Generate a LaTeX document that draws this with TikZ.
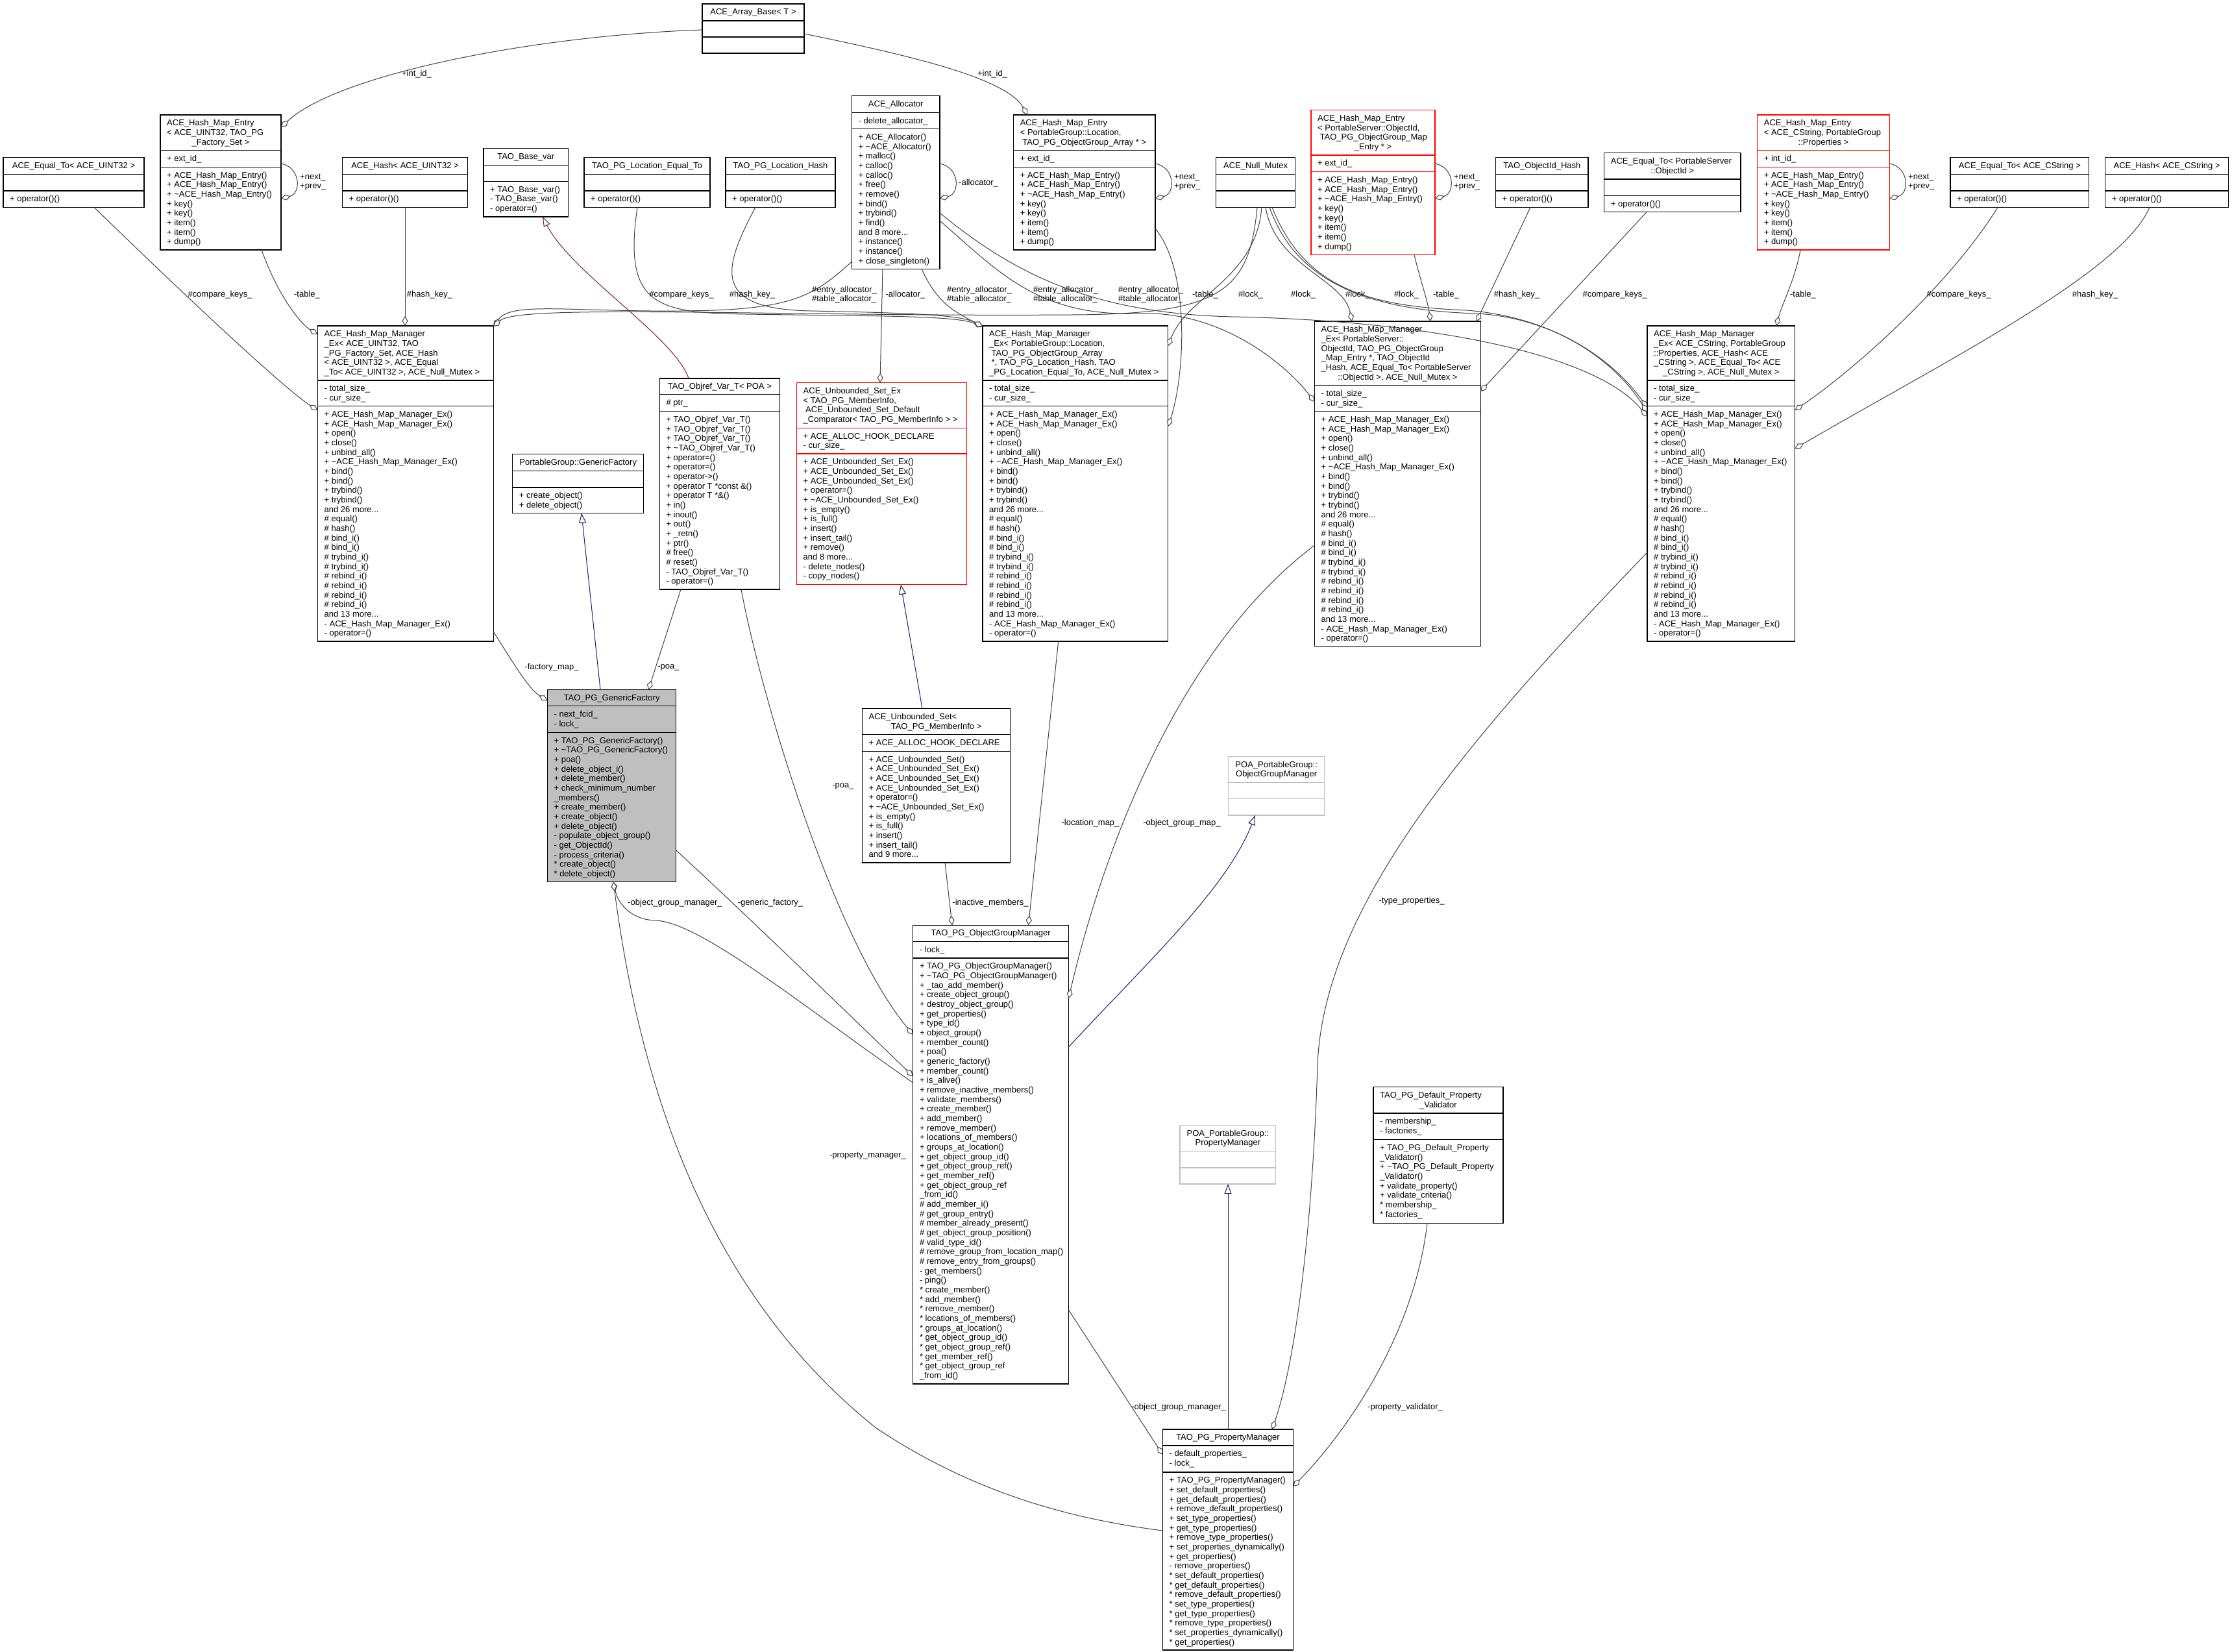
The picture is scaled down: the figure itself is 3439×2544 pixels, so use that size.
\documentclass[tikz,border=0pt]{standalone}
\usepackage{fontspec}
\setmainfont{Liberation Sans}
\usetikzlibrary{arrows.meta}
\definecolor{edgegray}{HTML}{404040}
\definecolor{inhblue}{HTML}{191970}
\definecolor{inhred}{HTML}{8B1A1A}
\definecolor{boxgray}{HTML}{BFBFBF}
\definecolor{classred}{HTML}{FF0000}
\tikzset{
  box/.style={draw, line width=1.3pt, inner sep=0pt, outer sep=0pt},
  ctext/.style={font=\fontsize{13}{14.67}\selectfont, inner sep=0pt, align=left, text=black},
  agg/.style={draw=edgegray, line width=1pt, -{Diamond[fill=white,length=15pt,width=9pt]}},
  inh/.style={draw=inhblue, line width=1pt, -{Triangle[fill=white,length=15pt,width=11pt]}},
  inhr/.style={draw=inhred, line width=1pt, -{Triangle[fill=white,length=15pt,width=11pt]}},
}
\newcounter{tn}
\newcommand\umlbox[9]{%
  \node[box,draw=#8,fill=#9,anchor=north west,minimum width={(#4-#2)*1pt},minimum height={(#7-#3)*1pt}] (#1) at (#2,#3) {};%
  \draw[draw=#8,line width=1.3pt] (#2,#5) -- (#4,#5);%
  \draw[draw=#8,line width=1.3pt] (#2,#6) -- (#4,#6);%
  \expandafter\xdef\csname ox#1\endcsname{#2}%
  \expandafter\xdef\csname oy#1\endcsname{#3}%
}
\newcommand\boxtxt[3]{\stepcounter{tn}\node[ctext,anchor=north west] (tn\arabic{tn}) at (#1+10,#2+6.3) {\strut #3};}
\newcommand\boxctr[3]{\stepcounter{tn}\node[ctext,anchor=north,align=center] (tn\arabic{tn}) at (#1,#2+6.3) {\strut #3};}
\newcommand\elabel[3]{\stepcounter{tn}\node[ctext,anchor=center] (lb\arabic{tn}) at (#1,#2) {#3};}
\newcommand\elabelw[3]{\stepcounter{tn}\node[ctext,anchor=west] (lb\arabic{tn}) at (#1,#2) {#3};}
\newcommand\epin[4]{\pgfmathsetmacro\pdx{#3-\csname ox#2\endcsname}\pgfmathsetmacro\pdy{#4-\csname oy#2\endcsname}\coordinate (#1) at ([shift={(\pdx,\pdy)}]#2.north west);}
\newcommand\entrymeth{+ ACE\_Hash\_Map\_Entry()\\+ ACE\_Hash\_Map\_Entry()\\+ \textasciitilde ACE\_Hash\_Map\_Entry()\\+ key()\\+ key()\\+ item()\\+ item()\\+ dump()}
\newcommand\mgrmeth{+ ACE\_Hash\_Map\_Manager\_Ex()\\+ ACE\_Hash\_Map\_Manager\_Ex()\\+ open()\\+ close()\\+ unbind\_all()\\+ \textasciitilde ACE\_Hash\_Map\_Manager\_Ex()\\+ bind()\\+ bind()\\+ trybind()\\+ trybind()\\and 26 more...\\\# equal()\\\# hash()\\\# bind\_i()\\\# bind\_i()\\\# trybind\_i()\\\# trybind\_i()\\\# rebind\_i()\\\# rebind\_i()\\\# rebind\_i()\\\# rebind\_i()\\and 13 more...\\- ACE\_Hash\_Map\_Manager\_Ex()\\- operator=()}
\newcommand\ogmmeth{+ TAO\_PG\_ObjectGroupManager()\\+ \textasciitilde TAO\_PG\_ObjectGroupManager()\\+ \_tao\_add\_member()\\+ create\_object\_group()\\+ destroy\_object\_group()\\+ get\_properties()\\+ type\_id()\\+ object\_group()\\+ member\_count()\\+ poa()\\+ generic\_factory()\\+ member\_count()\\+ is\_alive()\\+ remove\_inactive\_members()\\+ validate\_members()\\+ create\_member()\\+ add\_member()\\+ remove\_member()\\+ locations\_of\_members()\\+ groups\_at\_location()\\+ get\_object\_group\_id()\\+ get\_object\_group\_ref()\\+ get\_member\_ref()\\+ get\_object\_group\_ref\\\_from\_id()\\\# add\_member\_i()\\\# get\_group\_entry()\\\# member\_already\_present()\\\# get\_object\_group\_position()\\\# valid\_type\_id()\\\# remove\_group\_from\_location\_map()\\\# remove\_entry\_from\_groups()\\- get\_members()\\- ping()\\{}* create\_member()\\{}* add\_member()\\{}* remove\_member()\\{}* locations\_of\_members()\\{}* groups\_at\_location()\\{}* get\_object\_group\_id()\\{}* get\_object\_group\_ref()\\{}* get\_member\_ref()\\{}* get\_object\_group\_ref\\\_from\_id()}
\newcommand\pmmeth{+ TAO\_PG\_PropertyManager()\\+ set\_default\_properties()\\+ get\_default\_properties()\\+ remove\_default\_properties()\\+ set\_type\_properties()\\+ get\_type\_properties()\\+ remove\_type\_properties()\\+ set\_properties\_dynamically()\\+ get\_properties()\\- remove\_properties()\\{}* set\_default\_properties()\\{}* get\_default\_properties()\\{}* remove\_default\_properties()\\{}* set\_type\_properties()\\{}* get\_type\_properties()\\{}* remove\_type\_properties()\\{}* set\_properties\_dynamically()\\{}* get\_properties()}
\begin{document}
\begin{tikzpicture}[x=1pt,y=-1pt]
\fill[white] (0,0) rectangle (3439,2544);
\useasboundingbox (0,0) rectangle (3439,2544);

% ---------- top row ----------
\umlbox{ArrayBase}{1082}{6}{1239}{32}{57}{82}{black}{white}
\boxctr{1160.5}{6}{ACE\_Array\_Base< T >}

\umlbox{EntryU32}{247}{177}{433}{231.7}{257.3}{385}{black}{white}
\boxtxt{247}{177}{ACE\_Hash\_Map\_Entry\\< ACE\_UINT32, TAO\_PG}
\boxctr{340}{206.3}{\_Factory\_Set >}
\boxtxt{247}{231.7}{+ ext\_id\_}
\boxtxt{247}{257.3}{\entrymeth}

\umlbox{EqualU32}{5}{242.7}{222}{268.7}{294}{319.3}{black}{white}
\boxctr{113.5}{242.7}{ACE\_Equal\_To< ACE\_UINT32 >}
\boxtxt{5}{294}{+ operator()()}

\umlbox{HashU32}{527.5}{242.7}{720.5}{268.7}{294}{319.3}{black}{white}
\boxctr{624}{242.7}{ACE\_Hash< ACE\_UINT32 >}
\boxtxt{527.5}{294}{+ operator()()}

\umlbox{BaseVar}{745}{228.7}{875.5}{254.3}{279.3}{334}{black}{white}
\boxctr{810.25}{228.7}{TAO\_Base\_var}
\boxtxt{745}{279.3}{+ TAO\_Base\_var()\\- TAO\_Base\_var()\\- operator=()}

\umlbox{LocEq}{900}{242.7}{1094}{268.7}{294}{319.3}{black}{white}
\boxctr{997}{242.7}{TAO\_PG\_Location\_Equal\_To}
\boxtxt{900}{294}{+ operator()()}

\umlbox{LocHash}{1118}{242.7}{1287}{268.7}{294}{319.3}{black}{white}
\boxctr{1202.5}{242.7}{TAO\_PG\_Location\_Hash}
\boxtxt{1118}{294}{+ operator()()}

\umlbox{Alloc}{1312.5}{147.7}{1448}{173.3}{198.7}{414.3}{black}{white}
\boxctr{1380.25}{147.7}{ACE\_Allocator}
\boxtxt{1312.5}{173.3}{- delete\_allocator\_}
\boxtxt{1312.5}{198.7}{+ ACE\_Allocator()\\+ \textasciitilde ACE\_Allocator()\\+ malloc()\\+ calloc()\\+ calloc()\\+ free()\\+ remove()\\+ bind()\\+ trybind()\\+ find()\\and 8 more...\\+ instance()\\+ instance()\\+ close\_singleton()}

\umlbox{EntryLoc}{1561.6}{177}{1780}{231.7}{257.3}{385}{black}{white}
\boxtxt{1561.6}{177}{ACE\_Hash\_Map\_Entry\\< PortableGroup::Location,}
\boxctr{1670.8}{206.3}{TAO\_PG\_ObjectGroup\_Array * >}
\boxtxt{1561.6}{231.7}{+ ext\_id\_}
\boxtxt{1561.6}{257.3}{\entrymeth}

\umlbox{NullMutex}{1873.7}{242.7}{1995.5}{268.7}{294}{319.3}{black}{white}
\boxctr{1934.6}{242.7}{ACE\_Null\_Mutex}

\umlbox{EntryOid}{2020}{169.7}{2211}{239}{264.7}{392.7}{classred}{white}
\boxtxt{2020}{169.7}{ACE\_Hash\_Map\_Entry\\< PortableServer::ObjectId,\\\hspace*{3.5pt}TAO\_PG\_ObjectGroup\_Map}
\boxctr{2115.5}{213.7}{\_Entry * >}
\boxtxt{2020}{239}{+ ext\_id\_}
\boxtxt{2020}{264.7}{\entrymeth}

\umlbox{OidHash}{2304.7}{242.7}{2447}{268.7}{294}{319.3}{black}{white}
\boxctr{2375.85}{242.7}{TAO\_ObjectId\_Hash}
\boxtxt{2304.7}{294}{+ operator()()}

\umlbox{EqualOid}{2471.7}{235.7}{2682}{276}{301.3}{326.7}{black}{white}
\boxtxt{2471.7}{235.7}{ACE\_Equal\_To< PortableServer}
\boxctr{2576.85}{250.37}{::ObjectId >}
\boxtxt{2471.7}{301.3}{+ operator()()}

\umlbox{EntryCStr}{2707.6}{177}{2911.3}{231.7}{257.3}{385}{classred}{white}
\boxtxt{2707.6}{177}{ACE\_Hash\_Map\_Entry\\< ACE\_CString, PortableGroup}
\boxctr{2809.45}{206.3}{::Properties >}
\boxtxt{2707.6}{231.7}{+ int\_id\_}
\boxtxt{2707.6}{257.3}{\entrymeth}

\umlbox{EqualCStr}{3005}{242.7}{3218.8}{268.7}{294}{319.3}{black}{white}
\boxctr{3111.9}{242.7}{ACE\_Equal\_To< ACE\_CString >}
\boxtxt{3005}{294}{+ operator()()}

\umlbox{HashCStr}{3243.6}{242.7}{3433.6}{268.7}{294}{319.3}{black}{white}
\boxctr{3338.6}{242.7}{ACE\_Hash< ACE\_CString >}
\boxtxt{3243.6}{294}{+ operator()()}

% ---------- middle row ----------
\umlbox{MgrU32}{489.5}{502}{760.2}{586}{625.7}{988}{black}{white}
\boxtxt{489.5}{502}{ACE\_Hash\_Map\_Manager\\\_Ex< ACE\_UINT32, TAO\\\_PG\_Factory\_Set, ACE\_Hash\\< ACE\_UINT32 >, ACE\_Equal\\\_To< ACE\_UINT32 >, ACE\_Null\_Mutex >}
\boxtxt{489.5}{586}{- total\_size\_\\- cur\_size\_}
\boxtxt{489.5}{625.7}{\mgrmeth}

\umlbox{GFIface}{789.7}{699.6}{991.7}{725.4}{751}{790.7}{black}{white}
\boxctr{890.7}{699.6}{PortableGroup::GenericFactory}
\boxtxt{789.7}{751}{+ create\_object()\\+ delete\_object()}

\umlbox{Objref}{1016.3}{582.9}{1201.5}{607.5}{633.6}{907.9}{black}{white}
\boxctr{1108.9}{582.9}{TAO\_Objref\_Var\_T< POA >}
\boxtxt{1016.3}{607.5}{\# ptr\_}
\boxtxt{1016.3}{633.6}{+ TAO\_Objref\_Var\_T()\\+ TAO\_Objref\_Var\_T()\\+ TAO\_Objref\_Var\_T()\\+ \textasciitilde TAO\_Objref\_Var\_T()\\+ operator=()\\+ operator=()\\+ operator->()\\+ operator T *const \&()\\+ operator T *\&()\\+ in()\\+ inout()\\+ out()\\+ \_retn()\\+ ptr()\\\# free()\\\# reset()\\- TAO\_Objref\_Var\_T()\\- operator=()}

\umlbox{USetEx}{1227.5}{589.6}{1489.8}{659.3}{699}{900.7}{classred}{white}
\boxtxt{1227.5}{589.6}{ACE\_Unbounded\_Set\_Ex\\< TAO\_PG\_MemberInfo,\\\hspace*{3.5pt}ACE\_Unbounded\_Set\_Default\\\_Comparator< TAO\_PG\_MemberInfo > >}
\boxtxt{1227.5}{659.3}{+ ACE\_ALLOC\_HOOK\_DECLARE\\- cur\_size\_}
\boxtxt{1227.5}{699}{+ ACE\_Unbounded\_Set\_Ex()\\+ ACE\_Unbounded\_Set\_Ex()\\+ ACE\_Unbounded\_Set\_Ex()\\+ operator=()\\+ \textasciitilde ACE\_Unbounded\_Set\_Ex()\\+ is\_empty()\\+ is\_full()\\+ insert()\\+ insert\_tail()\\+ remove()\\and 8 more...\\- delete\_nodes()\\- copy\_nodes()}

\umlbox{MgrLoc}{1514}{502}{1799.7}{586}{625.7}{988}{black}{white}
\boxtxt{1514}{502}{ACE\_Hash\_Map\_Manager\\\_Ex< PortableGroup::Location,\\\hspace*{3.5pt}TAO\_PG\_ObjectGroup\_Array\\\hspace*{3.5pt}*, TAO\_PG\_Location\_Hash, TAO\\\_PG\_Location\_Equal\_To, ACE\_Null\_Mutex >}
\boxtxt{1514}{586}{- total\_size\_\\- cur\_size\_}
\boxtxt{1514}{625.7}{\mgrmeth}

\umlbox{MgrOid}{2025.5}{495}{2281.2}{593.6}{633.6}{995.7}{black}{white}
\boxtxt{2025.5}{495}{ACE\_Hash\_Map\_Manager\\\_Ex< PortableServer::\\ObjectId, TAO\_PG\_ObjectGroup\\\_Map\_Entry *, TAO\_ObjectId\\\_Hash, ACE\_Equal\_To< PortableServer}
\boxctr{2153.35}{568.35}{::ObjectId >, ACE\_Null\_Mutex >}
\boxtxt{2025.5}{593.6}{- total\_size\_\\- cur\_size\_}
\boxtxt{2025.5}{633.6}{\mgrmeth}

\umlbox{MgrCStr}{2538}{502}{2765.6}{586}{625.7}{988}{black}{white}
\boxtxt{2538}{502}{ACE\_Hash\_Map\_Manager\\\_Ex< ACE\_CString, PortableGroup\\::Properties, ACE\_Hash< ACE\\\_CString >, ACE\_Equal\_To< ACE}
\boxctr{2651.8}{560.7}{\_CString >, ACE\_Null\_Mutex >}
\boxtxt{2538}{586}{- total\_size\_\\- cur\_size\_}
\boxtxt{2538}{625.7}{\mgrmeth}

% ---------- lower part ----------
\umlbox{GF}{843.4}{1062.7}{1041.8}{1087.7}{1128.3}{1358.3}{black}{boxgray}
\boxctr{942.6}{1062.7}{TAO\_PG\_GenericFactory}
\boxtxt{843.4}{1087.7}{- next\_fcid\_\\- lock\_}
\boxtxt{843.4}{1128.3}{+ TAO\_PG\_GenericFactory()\\+ \textasciitilde TAO\_PG\_GenericFactory()\\+ poa()\\+ delete\_object\_i()\\+ delete\_member()\\+ check\_minimum\_number\\\_members()\\+ create\_member()\\+ create\_object()\\+ delete\_object()\\- populate\_object\_group()\\- get\_ObjectId()\\- process\_criteria()\\{}* create\_object()\\{}* delete\_object()}

\umlbox{USet}{1328.5}{1091.7}{1556.7}{1131.7}{1157.3}{1329}{black}{white}
\boxtxt{1328.5}{1091.7}{ACE\_Unbounded\_Set<}
\boxctr{1442.6}{1106.37}{TAO\_PG\_MemberInfo >}
\boxtxt{1328.5}{1131.7}{+ ACE\_ALLOC\_HOOK\_DECLARE}
\boxtxt{1328.5}{1157.3}{+ ACE\_Unbounded\_Set()\\+ ACE\_Unbounded\_Set\_Ex()\\+ ACE\_Unbounded\_Set\_Ex()\\+ ACE\_Unbounded\_Set\_Ex()\\+ operator=()\\+ \textasciitilde ACE\_Unbounded\_Set\_Ex()\\+ is\_empty()\\+ is\_full()\\+ insert()\\+ insert\_tail()\\and 9 more...}

\umlbox{OGM}{1406.8}{1425.2}{1646.5}{1450.4}{1476}{2132}{black}{white}
\boxctr{1526.65}{1425.2}{TAO\_PG\_ObjectGroupManager}
\boxtxt{1406.8}{1450.4}{- lock\_}
\boxtxt{1406.8}{1476}{\ogmmeth}

\umlbox{POAOGM}{1892.7}{1165.3}{2040.7}{1205.3}{1230.7}{1256}{boxgray}{white}
\boxctr{1966.7}{1165.3}{POA\_PortableGroup::\\ObjectGroupManager}

\umlbox{POAPM}{1818}{1733.5}{1965.7}{1773.2}{1799}{1824}{boxgray}{white}
\boxctr{1891.85}{1733.5}{POA\_PortableGroup::\\PropertyManager}

\umlbox{Valid}{2116}{1674.7}{2316}{1714.9}{1755.6}{1884.2}{black}{white}
\boxtxt{2116}{1674.7}{TAO\_PG\_Default\_Property}
\boxctr{2216}{1689.37}{\_Validator}
\boxtxt{2116}{1714.9}{- membership\_\\- factories\_}
\boxtxt{2116}{1755.6}{+ TAO\_PG\_Default\_Property\\\_Validator()\\+ \textasciitilde TAO\_PG\_Default\_Property\\\_Validator()\\+ validate\_property()\\+ validate\_criteria()\\{}* membership\_\\{}* factories\_}

\umlbox{PM}{1791.5}{2202}{1992.4}{2227}{2268}{2542}{black}{white}
\boxctr{1891.95}{2202}{TAO\_PG\_PropertyManager}
\boxtxt{1791.5}{2227}{- default\_properties\_\\- lock\_}
\boxtxt{1791.5}{2268}{\pmmeth}

% ---------- connectors ----------
\epin{a1}{ArrayBase}{1082}{46}\epin{b1}{EntryU32}{433}{196}
\draw[agg] (a1) .. controls (820,55) and (520,115) .. (b1);
\elabel{642}{114}{+int\_id\_}

\epin{a2}{ArrayBase}{1239}{52}\epin{b2}{EntryLoc}{1583}{177}
\draw[agg] (a2) .. controls (1400,85) and (1550,120) .. (b2);
\elabel{1529}{114}{+int\_id\_}

\epin{a3}{EntryU32}{433}{252}\epin{b3}{EntryU32}{433}{306}
\draw[agg] (a3) .. controls (464,258) and (464,298) .. (b3);
\elabelw{462}{280.5}{+next\_\\+prev\_}

\epin{c3}{EntryLoc}{1780}{252}\epin{d3}{EntryLoc}{1780}{306}
\draw[agg] (c3) .. controls (1811,258) and (1811,298) .. (d3);
\elabelw{1809}{280.5}{+next\_\\+prev\_}

\epin{e3}{EntryOid}{2211}{252}\epin{f3}{EntryOid}{2211}{306}
\draw[agg] (e3) .. controls (2242,258) and (2242,298) .. (f3);
\elabelw{2240}{280.5}{+next\_\\+prev\_}

\epin{g3}{EntryCStr}{2911.3}{252}\epin{h3}{EntryCStr}{2911.3}{306}
\draw[agg] (g3) .. controls (2942,258) and (2942,298) .. (h3);
\elabelw{2940}{280.5}{+next\_\\+prev\_}

\epin{i3}{Alloc}{1448}{252}\epin{j3}{Alloc}{1448}{306}
\draw[agg] (i3) .. controls (1479,258) and (1479,298) .. (j3);
\elabelw{1477}{282}{-allocator\_}

\epin{a4}{EqualU32}{145}{319.3}\epin{b4}{MgrU32}{489.5}{632}
\draw[agg] (a4) .. controls (300,470) and (440,600) .. (b4);
\elabel{339}{454}{\#compare\_keys\_}

\epin{a5}{EntryU32}{403}{385}\epin{b5}{MgrU32}{489.5}{515}
\draw[agg] (a5) .. controls (430,460) and (465,500) .. (b5);
\elabel{473}{454}{-table\_}

\epin{a6}{HashU32}{624}{319.3}\epin{b6}{MgrU32}{624}{502}
\draw[agg] (a6) -- (b6);
\elabel{662}{454}{\#hash\_key\_}

\epin{a7}{Objref}{1061}{582.9}\epin{b7}{BaseVar}{836}{334}
\draw[inhr] (a7) .. controls (1040,520) and (880,420) .. (b7);

\epin{a8}{LocEq}{982}{319.3}\epin{b8}{MgrLoc}{1514}{503}
\draw[agg] (a8) .. controls (960,470) and (1010,482) .. (1150,484) .. controls (1350,487) and (1470,486) .. (b8);
\elabel{1050}{454}{\#compare\_keys\_}

\epin{a9}{LocHash}{1164}{319.3}\epin{b9}{MgrLoc}{1514}{503}
\draw[agg] (a9) .. controls (1110,420) and (1100,476) .. (1250,479) .. controls (1400,482) and (1480,485) .. (b9);
\elabel{1159}{454}{\#hash\_key\_}

\epin{a10}{Alloc}{1312.5}{403}\epin{b10}{MgrU32}{760.2}{503}
\draw[agg] (a10) .. controls (1260,450) and (1230,473) .. (1100,478) .. controls (900,484) and (790,462) .. (b10);
\elabel{1301}{454}{\#entry\_allocator\_\\\#table\_allocator\_}

\epin{a11}{Alloc}{1420}{414.3}\epin{b11}{MgrLoc}{1514}{503}
\draw[agg] (a11) .. controls (1445,470) and (1475,482) .. (b11);
\elabel{1509}{454}{\#entry\_allocator\_\\\#table\_allocator\_}

\epin{a12}{Alloc}{1448}{340}\epin{b12}{MgrOid}{2025.5}{619}
\draw[agg] (a12) .. controls (1540,420) and (1600,488) .. (1755,483) .. controls (1880,478) and (1980,560) .. (b12);
\elabel{1642}{454}{\#entry\_allocator\_\\\#table\_allocator\_}

\epin{a13}{Alloc}{1448}{328}\epin{b13}{MgrCStr}{2538}{642}
\draw[agg] (a13) .. controls (1560,420) and (1680,483) .. (1900,488) .. controls (2200,494) and (2460,545) .. (b13);
\elabel{1773}{454}{\#entry\_allocator\_\\\#table\_allocator\_}

\epin{a14}{Alloc}{1360}{414.3}\epin{b14}{USetEx}{1356}{589.6}
\draw[agg] (a14) -- (b14);
\elabel{1395}{454}{-allocator\_}

\epin{a15}{EntryLoc}{1780}{352}\epin{b15}{MgrLoc}{1799.7}{657}
\draw[agg] (a15) .. controls (1835,420) and (1825,580) .. (b15);
\elabel{1857}{454}{-table\_}

\epin{a16}{NullMutex}{1944}{319.3}\epin{b16}{MgrLoc}{1799.7}{533}
\draw[agg] (a16) .. controls (1935,430) and (1830,455) .. (b16);
\elabel{1927}{454}{\#lock\_}

\epin{a17}{NullMutex}{1937}{319.3}\epin{b17}{MgrU32}{760.2}{503}
\draw[agg] (a17) .. controls (1925,450) and (1880,484) .. (1650,485) .. controls (1200,488) and (800,468) .. (b17);
\elabel{2008}{454}{\#lock\_}

\epin{a18}{NullMutex}{1950}{319.3}\epin{b18}{MgrOid}{2083}{495}
\draw[agg] (a18) .. controls (1965,410) and (2070,430) .. (b18);
\elabel{2092}{454}{\#lock\_}

\epin{a19}{NullMutex}{1956}{319.3}\epin{b19}{MgrCStr}{2538}{628}
\draw[agg] (a19) .. controls (1995,430) and (2100,478) .. (2275,483) .. controls (2400,490) and (2490,560) .. (b19);
\epin{a20}{NullMutex}{1960}{319.3}\epin{b20}{MgrCStr}{2538}{635}
\draw[agg] (a20) .. controls (2010,445) and (2110,472) .. (2260,478) .. controls (2410,490) and (2495,567) .. (b20);
\elabel{2167}{454}{\#lock\_}

\epin{a21}{EntryOid}{2179}{392.7}\epin{b21}{MgrOid}{2204}{495}
\draw[agg] (a21) .. controls (2188,430) and (2200,465) .. (b21);
\elabel{2228}{454}{-table\_}

\epin{a22}{OidHash}{2358}{319.3}\epin{b22}{MgrOid}{2275}{495}
\draw[agg] (a22) -- (b22);
\elabel{2337}{454}{\#hash\_key\_}

\epin{a23}{EqualOid}{2537}{326.7}\epin{b23}{MgrOid}{2281.2}{603}
\draw[agg] (a23) -- (b23);
\elabel{2488}{454}{\#compare\_keys\_}

\epin{a24}{EntryCStr}{2774}{385}\epin{b24}{MgrCStr}{2737}{502}
\draw[agg] (a24) .. controls (2766,430) and (2745,470) .. (b24);
\elabel{2778}{454}{-table\_}

\epin{a25}{EqualCStr}{3078}{319.3}\epin{b25}{MgrCStr}{2765.6}{632}
\draw[agg] (a25) .. controls (3010,430) and (2870,560) .. (b25);
\elabel{3018}{454}{\#compare\_keys\_}

\epin{a26}{HashCStr}{3312}{319.3}\epin{b26}{MgrCStr}{2765.6}{691}
\draw[agg] (a26) .. controls (3270,420) and (2990,560) .. (b26);
\elabel{3228}{454}{\#hash\_key\_}

\epin{a27}{GF}{925}{1062.7}\epin{b27}{GFIface}{896}{790.7}
\draw[inh] (a27) -- (b27);

\epin{a28}{Objref}{1049}{907.9}\epin{b28}{GF}{999}{1062.7}
\draw[agg] (a28) -- (b28);
\elabel{1030}{1028}{-poa\_}

\epin{a29}{MgrU32}{760.2}{973}\epin{b29}{GF}{843.4}{1079}
\draw[agg] (a29) .. controls (790,1020) and (815,1062) .. (b29);
\elabel{850}{1028}{-factory\_map\_}

\epin{a30}{USet}{1421}{1091.7}\epin{b30}{USetEx}{1388}{900.7}
\draw[inh] (a30) -- (b30);

\epin{a31}{Objref}{1142}{907.9}\epin{b31}{OGM}{1406.8}{1594}
\draw[agg] (a31) .. controls (1170,1060) and (1280,1440) .. (b31);
\elabel{1299}{1211}{-poa\_}

\epin{a32}{USet}{1456}{1329}\epin{b32}{OGM}{1467}{1425.2}
\draw[agg] (a32) -- (b32);
\elabel{1526}{1391}{-inactive\_members\_}

\epin{a33}{MgrLoc}{1630.7}{988}\epin{b33}{OGM}{1584.5}{1425.2}
\draw[agg] (a33) -- (b33);
\elabel{1680}{1268}{-location\_map\_}

\epin{a34}{MgrOid}{2025.5}{840}\epin{b34}{OGM}{1646.5}{1538}
\draw[agg] (a34) .. controls (1800,1010) and (1690,1350) .. (b34);
\elabel{1821}{1268}{-object\_group\_map\_}

\epin{a35}{OGM}{1646.5}{1613}\epin{b35}{POAOGM}{1934}{1256}
\draw[inh] (a35) .. controls (1760,1490) and (1890,1370) .. (b35);

\epin{a36}{MgrCStr}{2538}{851}\epin{b36}{PM}{1960}{2202}
\draw[agg] (a36) .. controls (2250,1150) and (2040,1400) .. (2030,1640) .. controls (2022,1900) and (1995,2100) .. (b36);
\elabel{2175}{1388}{-type\_properties\_}

\epin{a37}{OGM}{1406.8}{1668}\epin{b37}{GF}{945}{1358.3}
\draw[agg] (a37) .. controls (1250,1560) and (1080,1420) .. (1010,1418) .. controls (975,1417) and (953,1395) .. (b37);
\elabel{1040}{1391}{-object\_group\_manager\_}

\epin{a38}{GF}{1041.8}{1310}\epin{b38}{OGM}{1406.8}{1658}
\draw[agg] (a38) .. controls (1140,1400) and (1300,1555) .. (b38);
\elabel{1187}{1391}{-generic\_factory\_}

\epin{a39}{PM}{1791.5}{2358}\epin{b39}{GF}{945}{1358.3}
\draw[agg] (a39) .. controls (1650,2340) and (1500,2300) .. (1350,2200) .. controls (1100,2000) and (990,1700) .. (b39);
\elabel{1337}{1781}{-property\_manager\_}

\epin{a40}{OGM}{1646.5}{2018}\epin{b40}{PM}{1791.5}{2241}
\draw[agg] (a40) -- (b40);
\elabel{1816}{2168}{-object\_group\_manager\_}

\epin{a41}{Valid}{2199}{1884.2}\epin{b41}{PM}{1992.4}{2290}
\draw[agg] (a41) .. controls (2180,2050) and (2080,2200) .. (b41);
\elabel{2165}{2168}{-property\_validator\_}

\epin{a42}{PM}{1892}{2202}\epin{b42}{POAPM}{1892}{1824}
\draw[inh] (a42) -- (b42);
\end{tikzpicture}
\end{document}
